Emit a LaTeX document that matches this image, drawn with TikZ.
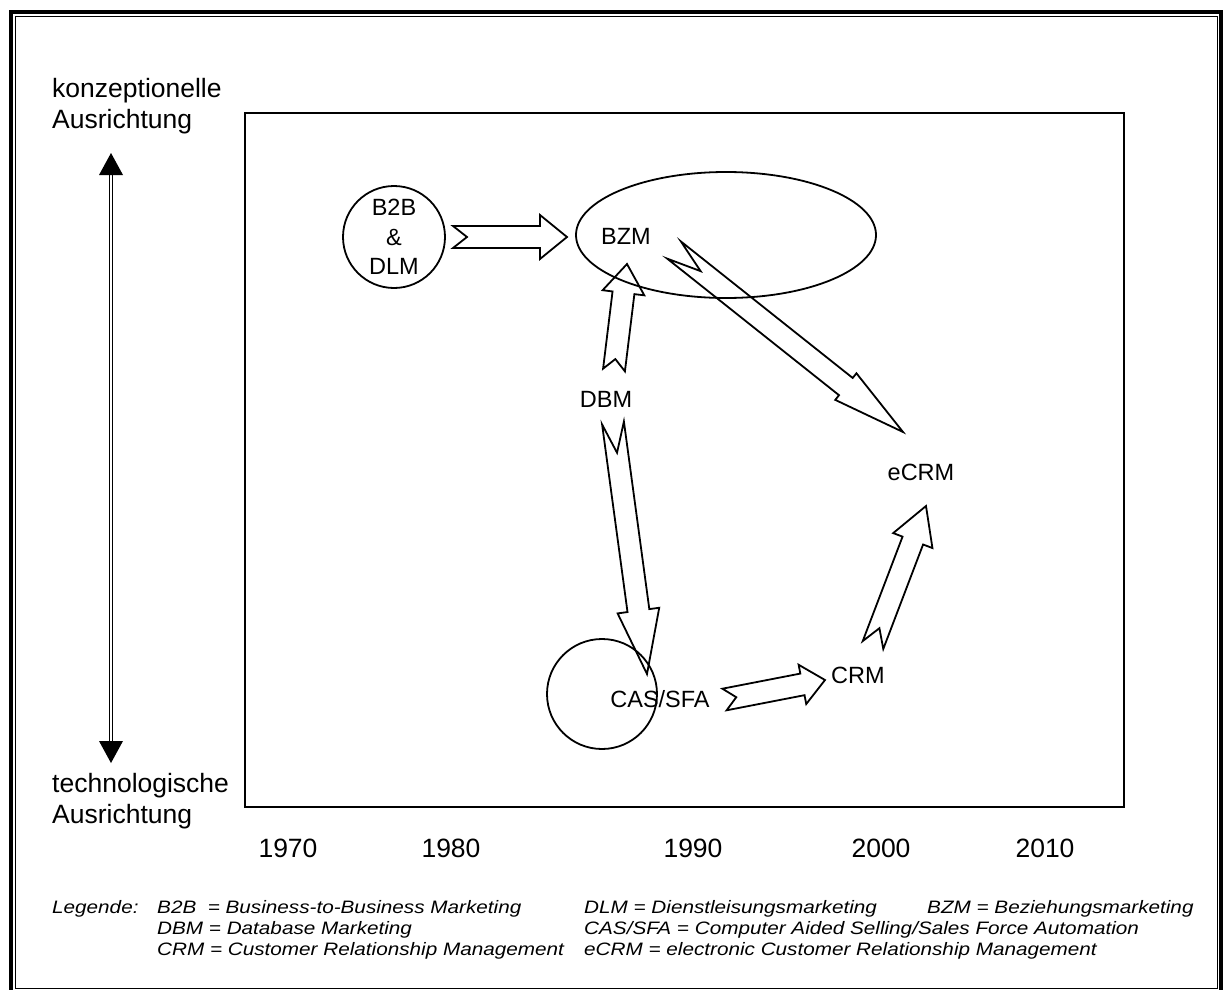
\documentclass[tikz,border=0pt]{standalone}
\usepackage{fontspec}
\setmainfont{Liberation Sans}
\newfontfamily\legfont[FakeStretch=1.15]{Liberation Sans}
\usepackage{tikz}
\usetikzlibrary{arrows.meta,calc,positioning,shapes.geometric}
\tikzset{
  axlbl/.style={font=\fontsize{26.5}{31.5}\selectfont,align=left,inner sep=0pt},
  yearlbl/.style={font=\fontsize{26.5}{31.5}\selectfont,inner sep=0pt},
  termlbl/.style={font=\fontsize{23.5}{29.3}\selectfont,inner sep=0pt,align=center},
  legline/.style={font=\legfont\itshape\fontsize{18}{21}\selectfont,anchor=base west,inner sep=0pt},
  ring/.style={draw,line width=1.8pt,inner sep=0pt},
  blk/.style={draw,line width=1.8pt,line join=miter},
}
% block arrow with notched tail: [head half width]{tail}{tip}{head length}{notch}
\newcommand{\blockarrow}[5][21]{%
  \coordinate (ba-h) at ($(#3)!#4pt!(#2)$);
  \draw[blk] ($(#2)!11pt!90:(#3)$) -- ($(ba-h)!11pt!90:(#3)$) -- ($(ba-h)!#1pt!90:(#3)$)
    -- (#3) -- ($(ba-h)!#1pt!-90:(#3)$) -- ($(ba-h)!11pt!-90:(#3)$)
    -- ($(#2)!11pt!-90:(#3)$) -- ($(#2)!#5pt!(#3)$) -- cycle;
}

\begin{document}
\begin{tikzpicture}[x=1pt,y=-1pt]
  \useasboundingbox (0,0) rectangle (1224,990);
  \clip (0,0) rectangle (1224,990);
  % frame and plot area
  \draw[line width=4pt] (10.5,12) rectangle (1220.5,1000);
  \draw[line width=1pt] (15,16.5) rectangle (1217,988.5);
  \draw[line width=1.6pt] (245,113) rectangle (1124,807);

  \node[axlbl,anchor=north west] (konz) at (52,78) {konzeptionelle\\Ausrichtung};
  \node[axlbl,anchor=north west] (tech) at (52,773) {technologische\\Ausrichtung};
  \coordinate (up) at (111,153); \coordinate (dn) at (111,763);
  \draw[line width=1.1pt,double distance=2.4pt,shorten <=20pt,shorten >=20pt] (up) -- (dn);
  \fill (up) -- ++(-12,22) -- ++(24,0) -- cycle;
  \fill (dn) -- ++(-12,-22) -- ++(24,0) -- cycle;

  \foreach \yr/\xx in {1970/288,1980/451,1990/693,2000/881,2010/1045}
    \node[yearlbl] (y\yr) at (\xx,848) {\yr};

  % terms
  \node[ring,circle,minimum size=102pt,termlbl] (b2b) at (394,237) {B2B\\\&\\DLM};
  \node[ring,ellipse,minimum width=300pt,minimum height=126pt] (bzm) at (726,235) {};
  \node[termlbl] (bzmtxt) at (626,236) {BZM};
  \node[termlbl] (dbm) at (606,399) {DBM};
  \node[ring,circle,minimum size=110pt] (cas) at (602,694) {};
  \node[termlbl] (castxt) at (660,699) {CAS/SFA};
  \node[termlbl] (crm) at (858,675) {CRM};
  \node[termlbl] (ecrm) at (921,472) {eCRM};

  % block arrows
  \coordinate (b2bR) at (453,237); \coordinate (bzmL) at (567,237);
  \coordinate (dbmT) at (614,370); \coordinate (bzmB) at (627,264);
  \coordinate (bzmR) at (674,250); \coordinate (ecrmT) at (903,432);
  \coordinate (dbmB) at (613,423); \coordinate (casT) at (647,674);
  \coordinate (casR) at (724.5,699.5); \coordinate (crmL) at (825,680);
  \coordinate (crmT) at (873,645); \coordinate (ecrmB) at (926,506);
  \blockarrow[22]{b2bR}{bzmL}{27}{14}
  \blockarrow{dbmT}{bzmB}{29}{11}
  \blockarrow[17]{bzmR}{ecrmT}{73}{34}
  \blockarrow{dbmB}{casT}{64}{30}
  \blockarrow[20]{casR}{crmL}{23}{12}
  \blockarrow{crmT}{ecrmB}{37}{18}

  % legend
  \node[legline] (leg) at (52,913) {Legende:};
  \node[legline] (lb2b) at (157,913) {B2B\ \ = Business-to-Business Marketing};
  \node[legline] (ldlm) at (584,913) {DLM = Dienstleisungsmarketing};
  \node[legline] (lbzm) at (927,913) {BZM = Beziehungsmarketing};
  \node[legline] (ldbm) at (157,934) {DBM = Database Marketing};
  \node[legline] (lcas) at (584,934) {CAS/SFA = Computer Aided Selling/Sales Force Automation};
  \node[legline] (lcrm) at (157,955) {CRM = Customer Relationship Management};
  \node[legline] (lecrm) at (584,955) {eCRM = electronic Customer Relationship Management};
\end{tikzpicture}
\end{document}
